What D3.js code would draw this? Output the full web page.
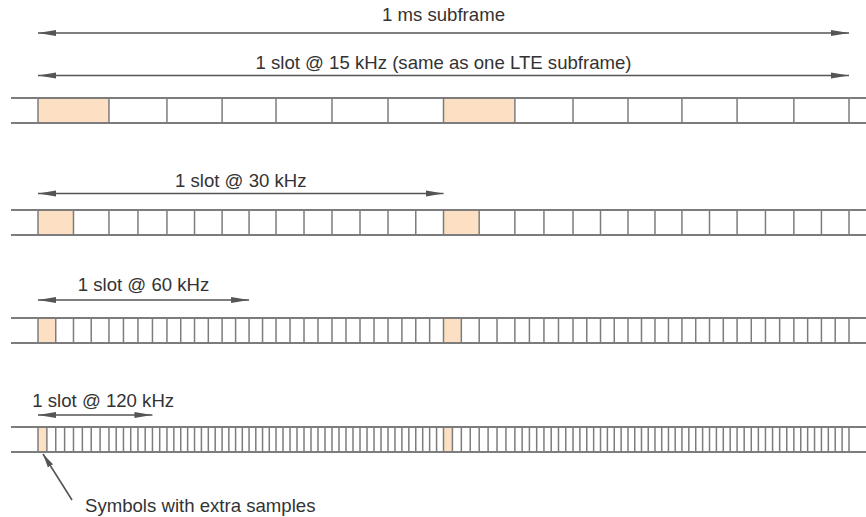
<!DOCTYPE html>
<html>
<head>
<meta charset="utf-8">
<script src="https://cdn.jsdelivr.net/npm/d3@7"></script>
<style>
  body { margin: 0; background: #fff; }
  svg { display: block; font-family: 'Liberation Sans', Arial, sans-serif; }
</style>
</head>
<body>
<svg width="866" height="517"></svg>
<script>
// symbol boundaries at 15 kHz inside the 1 ms subframe (ms)
var symbolEdges15 = [0, 0.0875, 0.159, 0.227, 0.2935, 0.3625, 0.4316, 0.5, 0.588, 0.6597, 0.7275, 0.794, 0.862, 0.932, 1.0]
var spacings = [15, 30, 60, 120]
var slotLabels = [
  '1 slot @ 15 kHz (same as one LTE subframe)',
  '1 slot @ 30 kHz',
  '1 slot @ 60 kHz',
  '1 slot @ 120 kHz'
]
var symbolsPerSlot = 14
var extraSampleStarts = [0, 0.5] // ms where the longer symbols start
var subframeLabel = '1 ms subframe'
var calloutLabel = 'Symbols with extra samples'

// layout
var width = 866
var rowTop = [98, 210, 318, 427]
var rowH = 25
var arrowY = [75.5, 193.5, 300, 415]
var labelY = [69, 187, 291, 407]
var labelDx = [0, 0, 0, 8]
var subframeArrowY = 33
var subframeLabelY = 21
var fontSize = 18.6
var gridColor = '#7c7c7c'
var arrowColor = '#555'
var textColor = '#333'
var fillColor = '#fde0c4'

var svg = d3.select('svg')
var x = d3.scaleLinear().domain([0, 1]).range([38, 849])

var defs = svg.append('defs')
defs.append('marker')
  .attr('id', 'head')
  .attr('viewBox', '0 -4 18 8')
  .attr('refX', 18).attr('refY', 0)
  .attr('markerWidth', 18).attr('markerHeight', 8)
  .attr('markerUnits', 'userSpaceOnUse')
  .attr('orient', 'auto-start-reverse')
  .append('path')
  .attr('d', 'M0,-3L18,0L0,3Z')
  .attr('fill', arrowColor)

defs.append('marker')
  .attr('id', 'head-small')
  .attr('viewBox', '0 -4 14 8')
  .attr('refX', 14).attr('refY', 0)
  .attr('markerWidth', 14).attr('markerHeight', 8)
  .attr('markerUnits', 'userSpaceOnUse')
  .attr('orient', 'auto')
  .append('path')
  .attr('d', 'M0,-3L14,0L0,3Z')
  .attr('fill', arrowColor)

var rowEdges = spacings.map(function(s) {
  var n = s / spacings[0]
  var edges = []
  for (var i = 0; i < symbolEdges15.length - 1; i++) {
    var a = symbolEdges15[i], b = symbolEdges15[i + 1]
    for (var k = 0; k < n; k++) edges.push(a + (b - a) * k / n)
  }
  edges.push(symbolEdges15[symbolEdges15.length - 1])
  return edges
})

var doubleArrow = function(g, x1, x2, y) {
  g.append('line')
    .attr('x1', x1).attr('x2', x2)
    .attr('y1', y).attr('y2', y)
    .attr('stroke', arrowColor)
    .attr('stroke-width', 1.6)
    .attr('marker-start', 'url(#head)')
    .attr('marker-end', 'url(#head)')
}

// 1 ms subframe
doubleArrow(svg, x(0), x(1), subframeArrowY)
svg.append('text')
  .attr('x', (x(0) + x(1)) / 2)
  .attr('y', subframeLabelY)
  .attr('text-anchor', 'middle')
  .attr('font-size', fontSize)
  .attr('fill', textColor)
  .text(subframeLabel)

rowEdges.forEach(function(edges, r) {
  var g = svg.append('g').attr('class', 'row')
  var top = rowTop[r]

  // highlighted symbols with extra samples
  var symbols = d3.range(edges.length - 1).map(function(i) { return [edges[i], edges[i + 1]] })
  g.selectAll('rect.extra')
    .data(symbols.filter(function(d) {
      return extraSampleStarts.some(function(t) { return Math.abs(d[0] - t) < 1e-6 })
    }))
    .enter().append('rect')
    .attr('class', 'extra')
    .attr('x', function(d) { return x(d[0]) })
    .attr('y', top)
    .attr('width', function(d) { return x(d[1]) - x(d[0]) })
    .attr('height', rowH)
    .attr('fill', fillColor)

  // horizontal borders
  g.selectAll('line.h').data([top, top + rowH]).enter().append('line')
    .attr('class', 'h')
    .attr('x1', 11).attr('x2', width)
    .attr('y1', function(d) { return d })
    .attr('y2', function(d) { return d })
    .attr('stroke', gridColor)
    .attr('stroke-width', 1.8)

  // symbol boundaries
  g.selectAll('line.v').data(edges).enter().append('line')
    .attr('class', 'v')
    .attr('x1', function(d) { return x(d) })
    .attr('x2', function(d) { return x(d) })
    .attr('y1', top).attr('y2', top + rowH)
    .attr('stroke', gridColor)
    .attr('stroke-width', 1.5)

  // slot arrow + label
  var x2 = x(edges[symbolsPerSlot])
  doubleArrow(svg, x(0), x2, arrowY[r])
  svg.append('text')
    .attr('x', (x(0) + x2) / 2 + labelDx[r])
    .attr('y', labelY[r])
    .attr('text-anchor', 'middle')
    .attr('font-size', fontSize)
    .attr('fill', textColor)
    .text(slotLabels[r])
})

// callout
var lastTop = rowTop[rowTop.length - 1]
svg.append('line')
  .attr('x1', 72).attr('y1', 500)
  .attr('x2', x(extraSampleStarts[0]) + 5).attr('y2', lastTop + rowH + 2)
  .attr('stroke', arrowColor)
  .attr('stroke-width', 1.6)
  .attr('marker-end', 'url(#head-small)')

svg.append('text')
  .attr('x', 85)
  .attr('y', 512)
  .attr('font-size', fontSize)
  .attr('fill', textColor)
  .text(calloutLabel)
</script>
</body>
</html>
